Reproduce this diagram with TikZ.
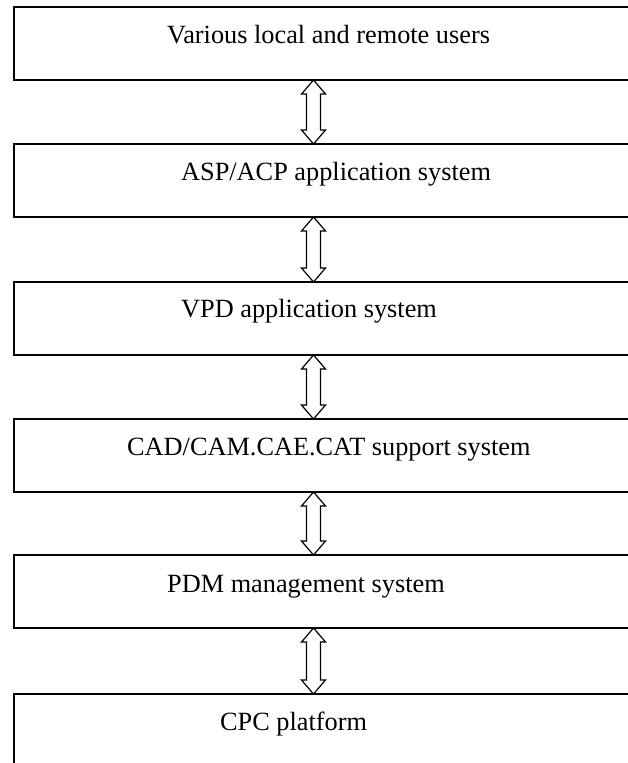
\documentclass[tikz,border=0pt]{standalone}
\usepackage{fontspec}
\setmainfont{Liberation Serif}
\usetikzlibrary{calc}

% hollow double-headed arrow between two stacked layers
\newcommand{\updown}[2]{%
    \draw[dblarrow] (#1.south -| ax) -- ++(12,14) -- ++(-5,0)
        -- ($(#2.north -| ax)+(7,-14)$) -- ++(5,0) -- (#2.north -| ax)
        -- ++(-12,-14) -- ++(5,0) -- ($(#1.south -| ax)+(-7,14)$) -- ++(-5,0) -- cycle;}

\begin{document}
\begin{tikzpicture}[x=1pt, y=-1pt,
    layer/.style={rectangle, draw, line width=1.6pt, minimum width=626pt, minimum height=73pt,
        inner sep=0pt, outer sep=0pt, anchor=north west},
    layertext/.style={anchor=base west, inner sep=0pt, font=\fontsize{26.3}{30}\selectfont},
    dblarrow/.style={draw, fill=white, line width=1.2pt, line join=miter}]

    \useasboundingbox (0,0) rectangle (628,763);
    \clip (0,0) rectangle (628,763);

    % layers
    \node[layer] (b1) at (14,7) {};
    \node[layer] (b2) at (14,144) {};
    \node[layer] (b3) at (14,282) {};
    \node[layer] (b4) at (14,419) {};
    \node[layer] (b5) at (14,555) {};
    \node[layer] (b6) at (14,694) {};

    % texts
    \node[layertext] (l1) at (167,43) {Various local and remote users};
    \node[layertext] (l2) at (181,180) {ASP/ACP application system};
    \node[layertext] (l3) at (181,317) {VPD application system};
    \node[layertext] (l4) at (127,455) {CAD/CAM.CAE.CAT support system};
    \node[layertext] (l5) at (167,592) {PDM management system};
    \node[layertext] (l6) at (220,730) {CPC platform};

    % arrows
    \coordinate (ax) at (313.5,0);
    \updown{b1}{b2}
    \updown{b2}{b3}
    \updown{b3}{b4}
    \updown{b4}{b5}
    \updown{b5}{b6}
\end{tikzpicture}
\end{document}
